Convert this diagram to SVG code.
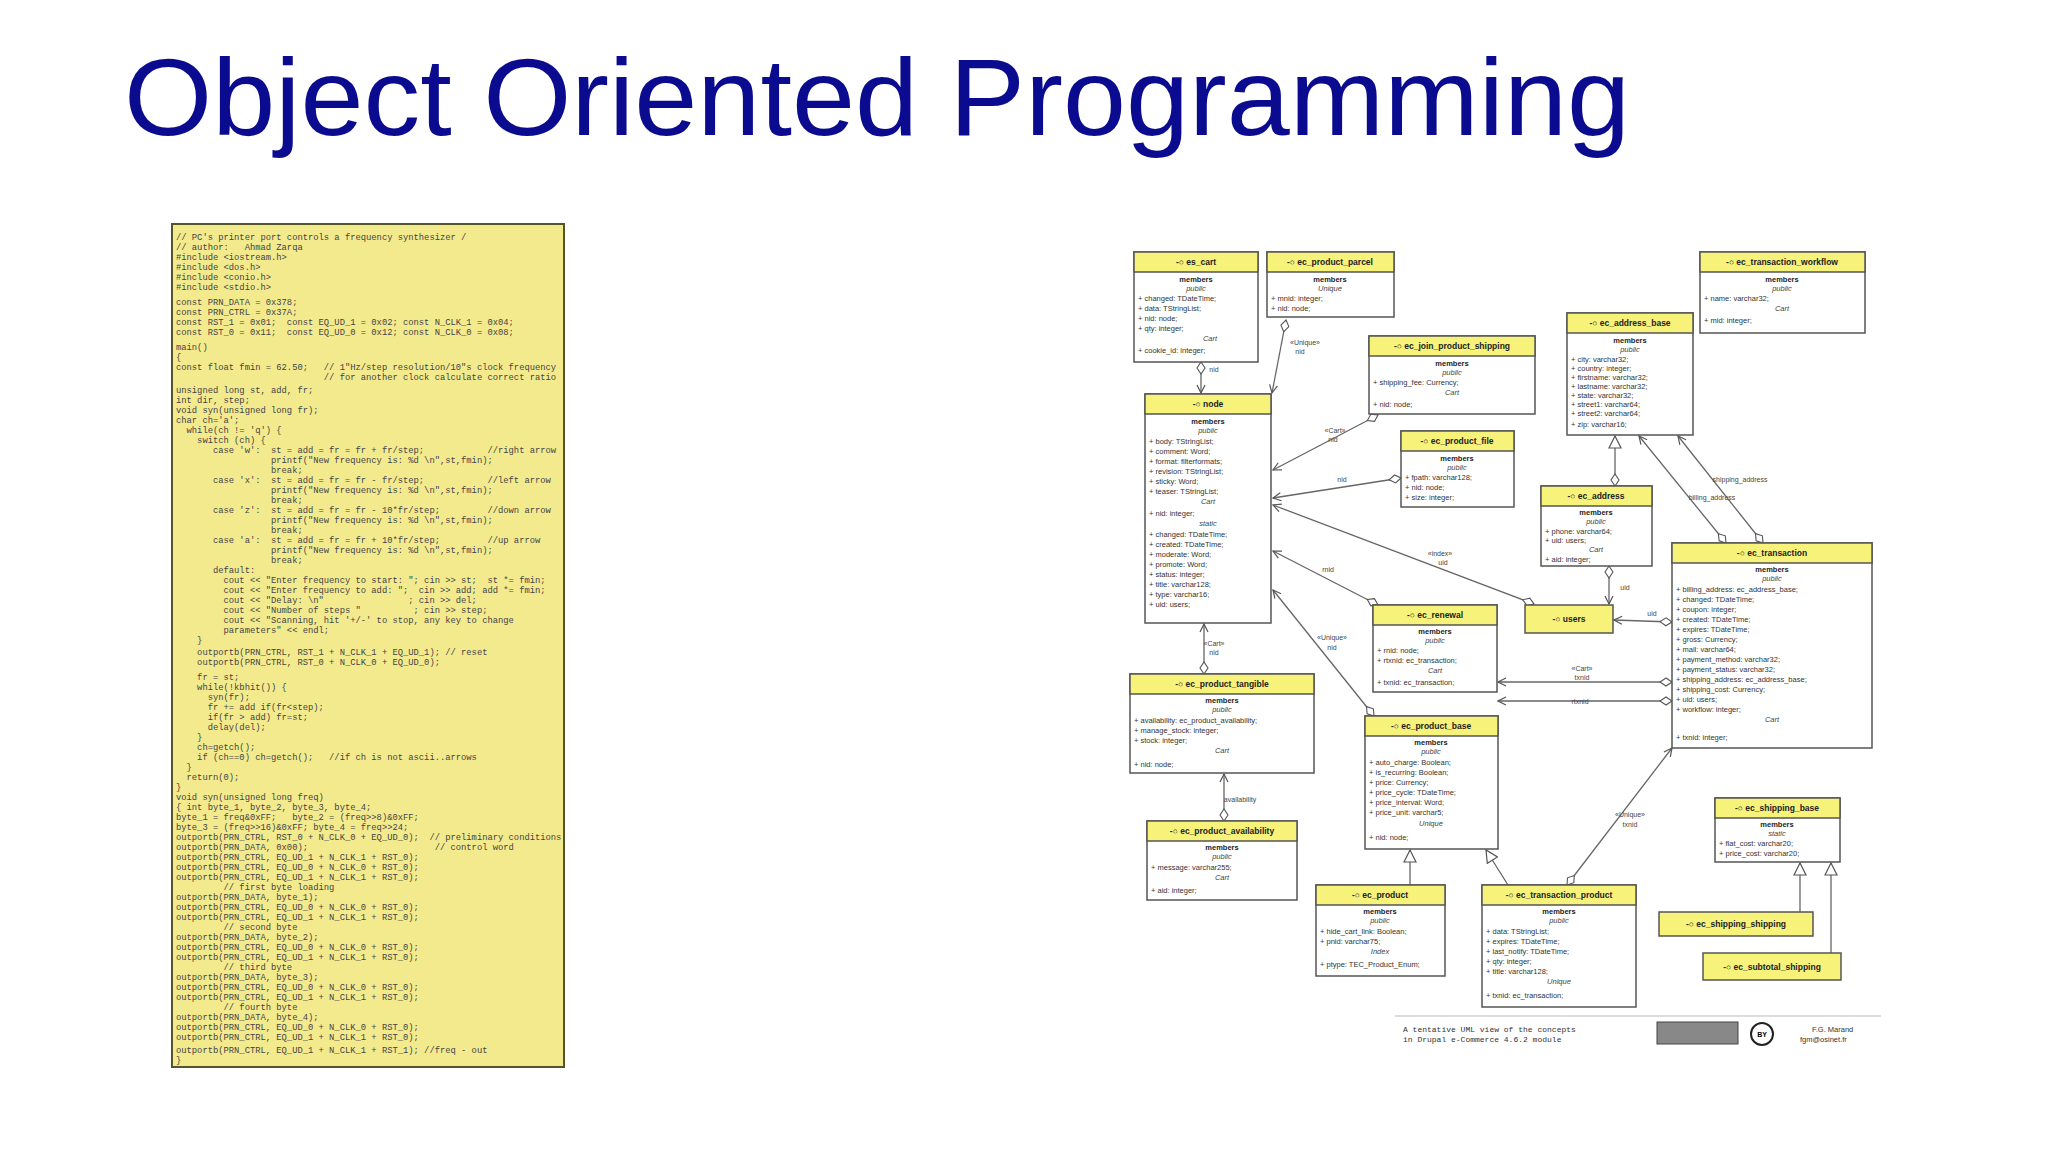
<svg xmlns="http://www.w3.org/2000/svg" width="2048" height="1152" viewBox="0 0 2048 1152">
<style>
.t{font-family:"Liberation Sans",Arial,sans-serif}
.box{fill:#fff;stroke:#555;stroke-width:1.5}
.hd{fill:#f7f27a;stroke:#555;stroke-width:1.5}
.ht{font-family:"Liberation Sans",Arial,sans-serif;font-size:8.5px;font-weight:bold;fill:#222;text-anchor:middle}
.at{font-family:"Liberation Sans",Arial,sans-serif;font-size:7.5px;fill:#333}
.mb{font-family:"Liberation Sans",Arial,sans-serif;font-size:7.5px;font-weight:bold;fill:#222;text-anchor:middle}
.st{font-family:"Liberation Sans",Arial,sans-serif;font-size:7.5px;font-style:italic;fill:#444;text-anchor:middle}
.code{font-family:"Liberation Mono","Courier New",monospace;font-size:8.8px;fill:#444;white-space:pre}
.cn{stroke:#666;stroke-width:1.3;fill:none}
.lb{font-family:"Liberation Sans",Arial,sans-serif;font-size:7px;fill:#444;text-anchor:middle}
</style>
<defs>
<marker id="ar" markerWidth="10" markerHeight="10" refX="9" refY="5" orient="auto" markerUnits="userSpaceOnUse"><path d="M1,1 L9,5 L1,9" fill="none" stroke="#555" stroke-width="1.2"/></marker>
<marker id="tri" markerWidth="14" markerHeight="14" refX="13" refY="7" orient="auto" markerUnits="userSpaceOnUse"><path d="M1,1 L13,7 L1,13 Z" fill="#fff" stroke="#555" stroke-width="1.2"/></marker>
<marker id="dm" markerWidth="14" markerHeight="10" refX="1" refY="5" orient="auto" markerUnits="userSpaceOnUse"><path d="M1,5 L7,1 L13,5 L7,9 Z" fill="#fff" stroke="#555" stroke-width="1.1"/></marker>
</defs>
<rect width="2048" height="1152" fill="#fff"/>
<text class="t" x="124" y="135" font-size="110" fill="#0b0b90" textLength="1506" lengthAdjust="spacingAndGlyphs">Object Oriented Programming</text>

<g id="code">
<rect x="172" y="224" width="392" height="843" fill="#f3ea8e" stroke="#55552a" stroke-width="2"/>
<text class="code" x="176" y="240">// PC's printer port controls a frequency synthesizer /</text>
<text class="code" x="176" y="250">// author:   Ahmad Zarqa</text>
<text class="code" x="176" y="260">#include &lt;iostream.h&gt;</text>
<text class="code" x="176" y="270">#include &lt;dos.h&gt;</text>
<text class="code" x="176" y="280">#include &lt;conio.h&gt;</text>
<text class="code" x="176" y="290">#include &lt;stdio.h&gt;</text>
<text class="code" x="176" y="305">const PRN_DATA = 0x378;</text>
<text class="code" x="176" y="315">const PRN_CTRL = 0x37A;</text>
<text class="code" x="176" y="325">const RST_1 = 0x01;  const EQ_UD_1 = 0x02; const N_CLK_1 = 0x04;</text>
<text class="code" x="176" y="335">const RST_0 = 0x11;  const EQ_UD_0 = 0x12; const N_CLK_0 = 0x08;</text>
<text class="code" x="176" y="350">main()</text>
<text class="code" x="176" y="360">{</text>
<text class="code" x="176" y="370">const float fmin = 62.50;   // 1"Hz/step resolution/10"s clock frequency</text>
<text class="code" x="176" y="380">                            // for another clock calculate correct ratio</text>
<text class="code" x="176" y="393">unsigned long st, add, fr;</text>
<text class="code" x="176" y="403">int dir, step;</text>
<text class="code" x="176" y="413">void syn(unsigned long fr);</text>
<text class="code" x="176" y="423">char ch='a';</text>
<text class="code" x="176" y="433">  while(ch != 'q') {</text>
<text class="code" x="176" y="443">    switch (ch) {</text>
<text class="code" x="176" y="453">       case 'w':  st = add = fr = fr + fr/step;            //right arrow</text>
<text class="code" x="176" y="463">                  printf("New frequency is: %d \n",st,fmin);</text>
<text class="code" x="176" y="473">                  break;</text>
<text class="code" x="176" y="483">       case 'x':  st = add = fr = fr - fr/step;            //left arrow</text>
<text class="code" x="176" y="493">                  printf("New frequency is: %d \n",st,fmin);</text>
<text class="code" x="176" y="503">                  break;</text>
<text class="code" x="176" y="513">       case 'z':  st = add = fr = fr - 10*fr/step;         //down arrow</text>
<text class="code" x="176" y="523">                  printf("New frequency is: %d \n",st,fmin);</text>
<text class="code" x="176" y="533">                  break;</text>
<text class="code" x="176" y="543">       case 'a':  st = add = fr = fr + 10*fr/step;         //up arrow</text>
<text class="code" x="176" y="553">                  printf("New frequency is: %d \n",st,fmin);</text>
<text class="code" x="176" y="563">                  break;</text>
<text class="code" x="176" y="573">       default:</text>
<text class="code" x="176" y="583">         cout &lt;&lt; "Enter frequency to start: "; cin &gt;&gt; st;  st *= fmin;</text>
<text class="code" x="176" y="593">         cout &lt;&lt; "Enter frequency to add: ";  cin &gt;&gt; add; add *= fmin;</text>
<text class="code" x="176" y="603">         cout &lt;&lt; "Delay: \n"                ; cin &gt;&gt; del;</text>
<text class="code" x="176" y="613">         cout &lt;&lt; "Number of steps "          ; cin &gt;&gt; step;</text>
<text class="code" x="176" y="623">         cout &lt;&lt; "Scanning, hit '+/-' to stop, any key to change</text>
<text class="code" x="176" y="633">         parameters" &lt;&lt; endl;</text>
<text class="code" x="176" y="643">    }</text>
<text class="code" x="176" y="655">    outportb(PRN_CTRL, RST_1 + N_CLK_1 + EQ_UD_1); // reset</text>
<text class="code" x="176" y="665">    outportb(PRN_CTRL, RST_0 + N_CLK_0 + EQ_UD_0);</text>
<text class="code" x="176" y="680">    fr = st;</text>
<text class="code" x="176" y="690">    while(!kbhit()) {</text>
<text class="code" x="176" y="700">      syn(fr);</text>
<text class="code" x="176" y="710">      fr += add if(fr&lt;step);</text>
<text class="code" x="176" y="720">      if(fr &gt; add) fr=st;</text>
<text class="code" x="176" y="730">      delay(del);</text>
<text class="code" x="176" y="740">    }</text>
<text class="code" x="176" y="750">    ch=getch();</text>
<text class="code" x="176" y="760">    if (ch==0) ch=getch();   //if ch is not ascii..arrows</text>
<text class="code" x="176" y="770">  }</text>
<text class="code" x="176" y="780">  return(0);</text>
<text class="code" x="176" y="790">}</text>
<text class="code" x="176" y="800">void syn(unsigned long freq)</text>
<text class="code" x="176" y="810">{ int byte_1, byte_2, byte_3, byte_4;</text>
<text class="code" x="176" y="820">byte_1 = freq&amp;0xFF;   byte_2 = (freq&gt;&gt;8)&amp;0xFF;</text>
<text class="code" x="176" y="830">byte_3 = (freq&gt;&gt;16)&amp;0xFF; byte_4 = freq&gt;&gt;24;</text>
<text class="code" x="176" y="840">outportb(PRN_CTRL, RST_0 + N_CLK_0 + EQ_UD_0);  // preliminary conditions</text>
<text class="code" x="176" y="850">outportb(PRN_DATA, 0x00);                        // control word</text>
<text class="code" x="176" y="860">outportb(PRN_CTRL, EQ_UD_1 + N_CLK_1 + RST_0);</text>
<text class="code" x="176" y="870">outportb(PRN_CTRL, EQ_UD_0 + N_CLK_0 + RST_0);</text>
<text class="code" x="176" y="880">outportb(PRN_CTRL, EQ_UD_1 + N_CLK_1 + RST_0);</text>
<text class="code" x="176" y="890">         // first byte loading</text>
<text class="code" x="176" y="900">outportb(PRN_DATA, byte_1);</text>
<text class="code" x="176" y="910">outportb(PRN_CTRL, EQ_UD_0 + N_CLK_0 + RST_0);</text>
<text class="code" x="176" y="920">outportb(PRN_CTRL, EQ_UD_1 + N_CLK_1 + RST_0);</text>
<text class="code" x="176" y="930">         // second byte</text>
<text class="code" x="176" y="940">outportb(PRN_DATA, byte_2);</text>
<text class="code" x="176" y="950">outportb(PRN_CTRL, EQ_UD_0 + N_CLK_0 + RST_0);</text>
<text class="code" x="176" y="960">outportb(PRN_CTRL, EQ_UD_1 + N_CLK_1 + RST_0);</text>
<text class="code" x="176" y="970">         // third byte</text>
<text class="code" x="176" y="980">outportb(PRN_DATA, byte_3);</text>
<text class="code" x="176" y="990">outportb(PRN_CTRL, EQ_UD_0 + N_CLK_0 + RST_0);</text>
<text class="code" x="176" y="1000">outportb(PRN_CTRL, EQ_UD_1 + N_CLK_1 + RST_0);</text>
<text class="code" x="176" y="1010">         // fourth byte</text>
<text class="code" x="176" y="1020">outportb(PRN_DATA, byte_4);</text>
<text class="code" x="176" y="1030">outportb(PRN_CTRL, EQ_UD_0 + N_CLK_0 + RST_0);</text>
<text class="code" x="176" y="1040">outportb(PRN_CTRL, EQ_UD_1 + N_CLK_1 + RST_0);</text>
<text class="code" x="176" y="1053">outportb(PRN_CTRL, EQ_UD_1 + N_CLK_1 + RST_1); //freq - out</text>
<text class="code" x="176" y="1063">}</text>
</g>

<g id="connectors">
<line class="cn" x1="1201" y1="362" x2="1201" y2="393" marker-start="url(#dm)" marker-end="url(#ar)"/><text class="lb" x="1214" y="372">nid</text>
<line class="cn" x1="1286" y1="320" x2="1272" y2="393" marker-start="url(#dm)" marker-end="url(#ar)"/><text class="lb" x="1305" y="345">«Unique»</text><text class="lb" x="1300" y="354">nid</text>
<line class="cn" x1="1378" y1="415" x2="1273" y2="470" marker-start="url(#dm)" marker-end="url(#ar)"/><text class="lb" x="1335" y="433">«Cart»</text><text class="lb" x="1333" y="442">nid</text>
<line class="cn" x1="1401" y1="478" x2="1273" y2="498" marker-start="url(#dm)" marker-end="url(#ar)"/><text class="lb" x="1342" y="482">nid</text>
<line class="cn" x1="1534" y1="604" x2="1273" y2="505" marker-start="url(#dm)" marker-end="url(#ar)"/><text class="lb" x="1440" y="556">«index»</text><text class="lb" x="1443" y="565">uid</text>
<line class="cn" x1="1378" y1="605" x2="1273" y2="551" marker-start="url(#dm)" marker-end="url(#ar)"/><text class="lb" x="1328" y="572">rnid</text>
<line class="cn" x1="1374" y1="716" x2="1273" y2="590" marker-start="url(#dm)" marker-end="url(#ar)"/><text class="lb" x="1332" y="640">«Unique»</text><text class="lb" x="1332" y="650">nid</text>
<line class="cn" x1="1204" y1="674" x2="1204" y2="624" marker-start="url(#dm)" marker-end="url(#ar)"/><text class="lb" x="1214" y="646">«Cart»</text><text class="lb" x="1214" y="655">nid</text>
<line class="cn" x1="1224" y1="821" x2="1224" y2="774" marker-start="url(#dm)" marker-end="url(#ar)"/><text class="lb" x="1240" y="802">availability</text>
<line class="cn" x1="1615" y1="486" x2="1615" y2="436" marker-start="url(#dm)" marker-end="url(#tri)"/>
<line class="cn" x1="1609" y1="566" x2="1609" y2="604" marker-start="url(#dm)" marker-end="url(#ar)"/><text class="lb" x="1625" y="590">uid</text>
<line class="cn" x1="1672" y1="622" x2="1614" y2="620" marker-start="url(#dm)" marker-end="url(#ar)"/><text class="lb" x="1652" y="616">uid</text>
<line class="cn" x1="1726" y1="543" x2="1639" y2="436" marker-start="url(#dm)" marker-end="url(#ar)"/><text class="lb" x="1712" y="500">billing_address</text>
<line class="cn" x1="1763" y1="543" x2="1678" y2="436" marker-start="url(#dm)" marker-end="url(#ar)"/><text class="lb" x="1740" y="482">shipping_address</text>
<line class="cn" x1="1672" y1="682" x2="1498" y2="682" marker-start="url(#dm)" marker-end="url(#ar)"/><text class="lb" x="1582" y="671">«Cart»</text><text class="lb" x="1582" y="680">txnid</text>
<line class="cn" x1="1672" y1="701" x2="1498" y2="701" marker-start="url(#dm)" marker-end="url(#ar)"/><text class="lb" x="1580" y="704">rtxnid</text>
<line class="cn" x1="1567" y1="885" x2="1672" y2="748" marker-start="url(#dm)" marker-end="url(#ar)"/><text class="lb" x="1630" y="817">«Unique»</text><text class="lb" x="1630" y="827">txnid</text>
<line class="cn" x1="1410" y1="885" x2="1410" y2="850" marker-end="url(#tri)"/>
<line class="cn" x1="1508" y1="885" x2="1486" y2="850" marker-end="url(#tri)"/>
<line class="cn" x1="1800" y1="912" x2="1800" y2="863" marker-end="url(#tri)"/>
<line class="cn" x1="1831" y1="953" x2="1831" y2="863" marker-end="url(#tri)"/>
</g>

<g id="es_cart"><rect class="box" x="1134" y="252" width="124" height="110"/><rect class="hd" x="1134" y="252" width="124" height="20"/><text class="ht" x="1196" y="265">-○ es_cart</text><text class="mb" x="1196" y="282">members</text><text class="st" x="1196" y="291">public</text><text class="at" x="1138" y="301">+ changed: TDateTime;</text><text class="at" x="1138" y="311">+ data: TStringList;</text><text class="at" x="1138" y="321">+ nid: node;</text><text class="at" x="1138" y="331">+ qty: integer;</text><text class="st" x="1210" y="341">Cart</text><text class="at" x="1138" y="353">+ cookie_id: integer;</text></g>
<g id="es_product_parcel"><rect class="box" x="1267" y="252" width="127" height="65"/><rect class="hd" x="1267" y="252" width="127" height="20"/><text class="ht" x="1330" y="265">-○ ec_product_parcel</text><text class="mb" x="1330" y="282">members</text><text class="st" x="1330" y="291">Unique</text><text class="at" x="1271" y="301">+ mnid: integer;</text><text class="at" x="1271" y="311">+ nid: node;</text></g>
<g id="ec_transaction_workflow"><rect class="box" x="1700" y="252" width="165" height="81"/><rect class="hd" x="1700" y="252" width="165" height="20"/><text class="ht" x="1782" y="265">-○ ec_transaction_workflow</text><text class="mb" x="1782" y="282">members</text><text class="st" x="1782" y="291">public</text><text class="at" x="1704" y="301">+ name: varchar32;</text><text class="st" x="1782" y="311">Cart</text><text class="at" x="1704" y="323">+ mid: integer;</text></g>
<g id="ec_address_base"><rect class="box" x="1567" y="313" width="126" height="122"/><rect class="hd" x="1567" y="313" width="126" height="20"/><text class="ht" x="1630" y="326">-○ ec_address_base</text><text class="mb" x="1630" y="343">members</text><text class="st" x="1630" y="352">public</text><text class="at" x="1571" y="362">+ city: varchar32;</text><text class="at" x="1571" y="371">+ country: integer;</text><text class="at" x="1571" y="380">+ firstname: varchar32;</text><text class="at" x="1571" y="389">+ lastname: varchar32;</text><text class="at" x="1571" y="398">+ state: varchar32;</text><text class="at" x="1571" y="407">+ street1: varchar64;</text><text class="at" x="1571" y="416">+ street2: varchar64;</text><text class="at" x="1571" y="427">+ zip: varchar16;</text></g>
<g id="ec_join_product_shipping"><rect class="box" x="1369" y="336" width="166" height="78"/><rect class="hd" x="1369" y="336" width="166" height="20"/><text class="ht" x="1452" y="349">-○ ec_join_product_shipping</text><text class="mb" x="1452" y="366">members</text><text class="st" x="1452" y="375">public</text><text class="at" x="1373" y="385">+ shipping_fee: Currency;</text><text class="st" x="1452" y="395">Cart</text><text class="at" x="1373" y="407">+ nid: node;</text></g>
<g id="node"><rect class="box" x="1145" y="394" width="126" height="229"/><rect class="hd" x="1145" y="394" width="126" height="20"/><text class="ht" x="1208" y="407">-○ node</text><text class="mb" x="1208" y="424">members</text><text class="st" x="1208" y="433">public</text>
<text class="at" x="1149" y="444">+ body: TStringList;</text><text class="at" x="1149" y="454">+ comment: Word;</text><text class="at" x="1149" y="464">+ format: filterformats;</text><text class="at" x="1149" y="474">+ revision: TStringList;</text><text class="at" x="1149" y="484">+ sticky: Word;</text><text class="at" x="1149" y="494">+ teaser: TStringList;</text><text class="st" x="1208" y="504">Cart</text><text class="at" x="1149" y="516">+ nid: integer;</text><text class="st" x="1208" y="526">static</text><text class="at" x="1149" y="537">+ changed: TDateTime;</text><text class="at" x="1149" y="547">+ created: TDateTime;</text><text class="at" x="1149" y="557">+ moderate: Word;</text><text class="at" x="1149" y="567">+ promote: Word;</text><text class="at" x="1149" y="577">+ status: integer;</text><text class="at" x="1149" y="587">+ title: varchar128;</text><text class="at" x="1149" y="597">+ type: varchar16;</text><text class="at" x="1149" y="607">+ uid: users;</text></g>
<g id="ec_product_file"><rect class="box" x="1401" y="431" width="113" height="76"/><rect class="hd" x="1401" y="431" width="113" height="20"/><text class="ht" x="1457" y="444">-○ ec_product_file</text><text class="mb" x="1457" y="461">members</text><text class="st" x="1457" y="470">public</text><text class="at" x="1405" y="480">+ fpath: varchar128;</text><text class="at" x="1405" y="490">+ nid: node;</text><text class="at" x="1405" y="500">+ size: integer;</text></g>
<g id="ec_address"><rect class="box" x="1541" y="486" width="111" height="80"/><rect class="hd" x="1541" y="486" width="111" height="20"/><text class="ht" x="1596" y="499">-○ ec_address</text><text class="mb" x="1596" y="515">members</text><text class="st" x="1596" y="524">public</text><text class="at" x="1545" y="534">+ phone: varchar64;</text><text class="at" x="1545" y="543">+ uid: users;</text><text class="st" x="1596" y="552">Cart</text><text class="at" x="1545" y="562">+ aid: integer;</text></g>
<g id="ec_transaction"><rect class="box" x="1672" y="543" width="200" height="205"/><rect class="hd" x="1672" y="543" width="200" height="20"/><text class="ht" x="1772" y="556">-○ ec_transaction</text><text class="mb" x="1772" y="572">members</text><text class="st" x="1772" y="581">public</text>
<text class="at" x="1676" y="592">+ billing_address: ec_address_base;</text><text class="at" x="1676" y="602">+ changed: TDateTime;</text><text class="at" x="1676" y="612">+ coupon: integer;</text><text class="at" x="1676" y="622">+ created: TDateTime;</text><text class="at" x="1676" y="632">+ expires: TDateTime;</text><text class="at" x="1676" y="642">+ gross: Currency;</text><text class="at" x="1676" y="652">+ mail: varchar64;</text><text class="at" x="1676" y="662">+ payment_method: varchar32;</text><text class="at" x="1676" y="672">+ payment_status: varchar32;</text><text class="at" x="1676" y="682">+ shipping_address: ec_address_base;</text><text class="at" x="1676" y="692">+ shipping_cost: Currency;</text><text class="at" x="1676" y="702">+ uid: users;</text><text class="at" x="1676" y="712">+ workflow: integer;</text><text class="st" x="1772" y="722">Cart</text><text class="at" x="1676" y="740">+ txnid: integer;</text></g>
<g id="ec_renewal"><rect class="box" x="1373" y="605" width="124" height="87"/><rect class="hd" x="1373" y="605" width="124" height="20"/><text class="ht" x="1435" y="618">-○ ec_renewal</text><text class="mb" x="1435" y="634">members</text><text class="st" x="1435" y="643">public</text><text class="at" x="1377" y="653">+ rnid: node;</text><text class="at" x="1377" y="663">+ rtxnid: ec_transaction;</text><text class="st" x="1435" y="673">Cart</text><text class="at" x="1377" y="685">+ txnid: ec_transaction;</text></g>
<g id="users"><rect class="hd" x="1525" y="605" width="88" height="28"/><text class="ht" x="1569" y="622">-○ users</text></g>
<g id="ec_product_tangible"><rect class="box" x="1130" y="674" width="184" height="99"/><rect class="hd" x="1130" y="674" width="184" height="20"/><text class="ht" x="1222" y="687">-○ ec_product_tangible</text><text class="mb" x="1222" y="703">members</text><text class="st" x="1222" y="712">public</text><text class="at" x="1134" y="723">+ availability: ec_product_availability;</text><text class="at" x="1134" y="733">+ manage_stock: integer;</text><text class="at" x="1134" y="743">+ stock: integer;</text><text class="st" x="1222" y="753">Cart</text><text class="at" x="1134" y="767">+ nid: node;</text></g>
<g id="ec_product_base"><rect class="box" x="1365" y="716" width="133" height="133"/><rect class="hd" x="1365" y="716" width="133" height="20"/><text class="ht" x="1431" y="729">-○ ec_product_base</text><text class="mb" x="1431" y="745">members</text><text class="st" x="1431" y="754">public</text><text class="at" x="1369" y="765">+ auto_charge: Boolean;</text><text class="at" x="1369" y="775">+ is_recurring: Boolean;</text><text class="at" x="1369" y="785">+ price: Currency;</text><text class="at" x="1369" y="795">+ price_cycle: TDateTime;</text><text class="at" x="1369" y="805">+ price_interval: Word;</text><text class="at" x="1369" y="815">+ price_unit: varchar5;</text><text class="st" x="1431" y="826">Unique</text><text class="at" x="1369" y="840">+ nid: node;</text></g>
<g id="ec_shipping_base"><rect class="box" x="1715" y="798" width="125" height="64"/><rect class="hd" x="1715" y="798" width="125" height="20"/><text class="ht" x="1777" y="811">-○ ec_shipping_base</text><text class="mb" x="1777" y="827">members</text><text class="st" x="1777" y="836">static</text><text class="at" x="1719" y="846">+ flat_cost: varchar20;</text><text class="at" x="1719" y="856">+ price_cost: varchar20;</text></g>
<g id="ec_product_availability"><rect class="box" x="1147" y="821" width="150" height="79"/><rect class="hd" x="1147" y="821" width="150" height="20"/><text class="ht" x="1222" y="834">-○ ec_product_availability</text><text class="mb" x="1222" y="850">members</text><text class="st" x="1222" y="859">public</text><text class="at" x="1151" y="870">+ message: varchar255;</text><text class="st" x="1222" y="880">Cart</text><text class="at" x="1151" y="893">+ aid: integer;</text></g>
<g id="ec_product"><rect class="box" x="1316" y="885" width="129" height="91"/><rect class="hd" x="1316" y="885" width="129" height="20"/><text class="ht" x="1380" y="898">-○ ec_product</text><text class="mb" x="1380" y="914">members</text><text class="st" x="1380" y="923">public</text><text class="at" x="1320" y="934">+ hide_cart_link: Boolean;</text><text class="at" x="1320" y="944">+ pnid: varchar75;</text><text class="st" x="1380" y="954">Index</text><text class="at" x="1320" y="967">+ ptype: TEC_Product_Enum;</text></g>
<g id="ec_transaction_product"><rect class="box" x="1482" y="885" width="154" height="122"/><rect class="hd" x="1482" y="885" width="154" height="20"/><text class="ht" x="1559" y="898">-○ ec_transaction_product</text><text class="mb" x="1559" y="914">members</text><text class="st" x="1559" y="923">public</text><text class="at" x="1486" y="934">+ data: TStringList;</text><text class="at" x="1486" y="944">+ expires: TDateTime;</text><text class="at" x="1486" y="954">+ last_notify: TDateTime;</text><text class="at" x="1486" y="964">+ qty: integer;</text><text class="at" x="1486" y="974">+ title: varchar128;</text><text class="st" x="1559" y="984">Unique</text><text class="at" x="1486" y="998">+ txnid: ec_transaction;</text></g>
<g id="ec_shipping_shipping"><rect class="hd" x="1659" y="912" width="154" height="24"/><text class="ht" x="1736" y="927">-○ ec_shipping_shipping</text></g>
<g id="ec_subtotal_shipping"><rect class="hd" x="1703" y="953" width="138" height="27"/><text class="ht" x="1772" y="970">-○ ec_subtotal_shipping</text></g>

<g id="caption">
<line x1="1395" y1="1016" x2="1881" y2="1016" stroke="#bbb"/>
<text x="1403" y="1032" font-family="Liberation Mono,monospace" font-size="8" fill="#333">A tentative UML view of the concepts</text>
<text x="1403" y="1042" font-family="Liberation Mono,monospace" font-size="8" fill="#333">in Drupal e-Commerce 4.6.2 module</text>
<rect x="1657" y="1022" width="81" height="22" fill="#888" stroke="#444"/>
<circle cx="1762" cy="1034" r="11" fill="#fff" stroke="#222" stroke-width="2"/>
<text x="1762" y="1037" font-family="Liberation Sans,sans-serif" font-size="7" font-weight="bold" text-anchor="middle">BY</text>
<text x="1812" y="1032" font-family="Liberation Sans,sans-serif" font-size="7.5" fill="#333">F.G. Marand</text>
<text x="1800" y="1042" font-family="Liberation Sans,sans-serif" font-size="7.5" fill="#333">fgm@osinet.fr</text>
</g>
</svg>
